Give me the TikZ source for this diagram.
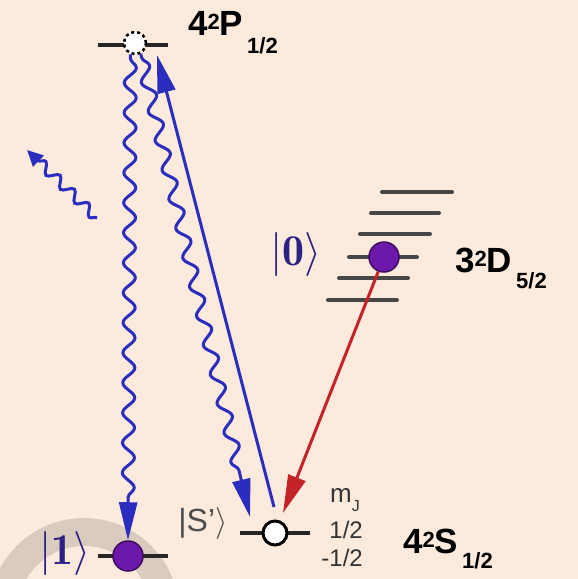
\RequirePackage{fix-cm}
\documentclass[tikz,border=0pt]{standalone}
\usepackage{fontspec}
\setsansfont{Liberation Sans}
\usepackage{tikz}
\usetikzlibrary{arrows.meta,decorations.pathmorphing}
\definecolor{paper}{RGB}{252,234,220}
\definecolor{halo}{RGB}{217,203,190}
\definecolor{photon}{RGB}{42,45,190}
\definecolor{ion}{RGB}{108,24,168}
\definecolor{ket}{RGB}{43,33,133}
\definecolor{decay}{RGB}{196,36,40}
\newcommand{\fsz}[1]{\fontsize{#1}{#1}\selectfont}

\begin{document}
\begin{tikzpicture}[x=1pt,y=-1pt,>=Latex,
    level/.style={line width=4pt,black!85},
    sublevel/.style={line width=4pt,black!72,line cap=round},
    wavy/.style={photon,line width=3pt,decorate,
      decoration={snake,amplitude=6pt,segment length=30pt,pre length=4pt,post length=34pt}},
    bighead/.style={-{Triangle[length=38pt,width=18pt]}},
    term/.style={inner sep=0pt,anchor=base west,font=\sffamily\bfseries}]
  \fill[paper] (0,0) rectangle (578,579);
  \useasboundingbox (0,0) rectangle (578,579);
  % grey ring in the corner
  \begin{scope}
    \clip (0,0) rectangle (578,579);
    \fill[halo,even odd rule] (84,613) circle[radius=95] (84,613) circle[radius=67];
  \end{scope}

  % levels
  \draw[level] (98,45) -- (168,45);
  \draw[level] (98,556) -- (168,556);
  \draw[level] (240,533) -- (310,533);
  \draw[sublevel] (382,192) -- (452,192);
  \draw[sublevel] (371,213) -- (439,213);
  \draw[sublevel] (360,234) -- (430,234);
  \draw[sublevel] (349,257) -- (417,257);
  \draw[sublevel] (339,278) -- (408,278);
  \draw[sublevel] (328,300) -- (397,300);

  % states
  \node[circle,draw,dashed,fill=white,line width=2.5pt,minimum size=22pt,inner sep=0pt] (p) at (135,43) {};
  \node[circle,draw=ion!55!black,fill=ion,line width=1.5pt,minimum size=30pt,inner sep=0pt] (one) at (128,556) {};
  \node[circle,draw=ion!55!black,fill=ion,line width=1.5pt,minimum size=30pt,inner sep=0pt] (zero) at (384,257) {};
  \node[circle,draw,fill=white,line width=3pt,minimum size=24pt,inner sep=0pt] (sp) at (275,533) {};
  \coordinate (spin) at (250,517);
  \coordinate (spout) at (274,507);
  \coordinate (spred) at (283,513);
  \coordinate (ptop) at (157,55);
  \coordinate (lost) at (27,150);
  \coordinate (lostfrom) at (97,218);

  % transitions
  \draw[wavy,bighead] (p.-112) -- (one.north);
  \draw[wavy,bighead] (p.-62) -- (spin);
  \draw[photon,line width=3pt,bighead] (spout) -- (ptop);
  \draw[decay,line width=3pt,-{Triangle[length=38pt,width=18pt]}] (zero) -- (spred);
  \draw[photon,line width=3pt,-{Triangle[length=16pt,width=15pt]},decorate,
    decoration={snake,amplitude=5pt,segment length=20pt,post length=14pt}] (lostfrom) -- (lost);

  % labels
  \node[term] (pterm) at (188,35) {\fsz{35}4\raisebox{6pt}{\fsz{22}2}P\hspace{4pt}\raisebox{-18pt}{\fsz{22}1/2}};
  \node[term] (dterm) at (455,272) {\fsz{35}3\raisebox{6pt}{\fsz{22}2}D\hspace{4pt}\raisebox{-16pt}{\fsz{22}5/2}};
  \node[term] (sterm) at (403,553) {\fsz{35}4\raisebox{6pt}{\fsz{22}2}S\hspace{4pt}\raisebox{-15pt}{\fsz{22}1/2}};
  \node[text=ket,inner sep=0pt] (ketzero) at (296,254) {\fsz{44}$|\mathbf{0}\rangle$};
  \node[text=ket,inner sep=0pt] (ketone) at (65,553) {\fsz{44}$|\mathbf{1}\rangle$};
  \node[text=black!70,inner sep=0pt] (ketsp) at (203,523) {\fsz{32}\sffamily|S'$\rangle$};
  \node[inner sep=0pt,anchor=base west,font=\sffamily,text=black!80] (mj) at (330,502) {\fsz{26}m\raisebox{-9pt}{\fsz{16}J}};
  \node[inner sep=0pt,anchor=base east,font=\sffamily,text=black!80] (mup) at (363,538) {\fsz{24}1/2};
  \node[inner sep=0pt,anchor=base east,font=\sffamily,text=black!80] (mdown) at (363,566) {\fsz{24}-1/2};
\end{tikzpicture}
\end{document}
